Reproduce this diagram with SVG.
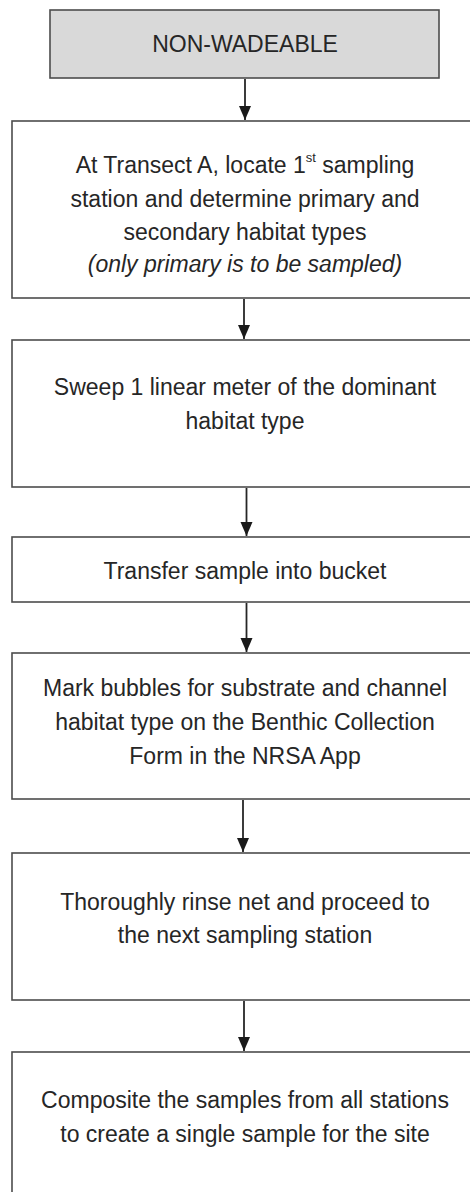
<svg xmlns="http://www.w3.org/2000/svg" width="470" height="1192" viewBox="0 0 470 1192">
<style>
.box{fill:#ffffff;stroke:#4d4d4d;stroke-width:1.6}
.head{fill:#d9d9d9;stroke:#4d4d4d;stroke-width:1.6}
.t{font-family:"Liberation Sans",Arial,sans-serif;font-size:23px;fill:#262626;text-anchor:middle}
.it{font-style:italic}
.sup{font-size:13px}
.c{stroke:#262626;stroke-width:1.8;fill:none;marker-end:url(#ah)}
</style>
<defs>
<marker id="ah" markerUnits="userSpaceOnUse" markerWidth="14" markerHeight="13" viewBox="0 0 14 13" refX="14" refY="6.5" orient="auto">
<path d="M0,0.5 L14,6.5 L0,12.5 Z" fill="#1a1a1a"/>
</marker>
</defs>
<g id="n1">
<rect class="head" x="50" y="10" width="389" height="68"/>
<text class="t" x="245" y="52">NON-WADEABLE</text>
</g>
<g id="n2">
<rect class="box" x="12" y="121" width="470" height="177"/>
<text class="t" x="245" y="173">At Transect A, locate 1<tspan class="sup" dy="-11">st</tspan><tspan dy="11"> sampling</tspan></text>
<text class="t" x="245" y="207">station and determine primary and</text>
<text class="t" x="245" y="240">secondary habitat types</text>
<text class="t it" x="245" y="272">(only primary is to be sampled)</text>
</g>
<g id="n3">
<rect class="box" x="12" y="340" width="470" height="147"/>
<text class="t" x="245" y="395">Sweep 1 linear meter of the dominant</text>
<text class="t" x="245" y="429">habitat type</text>
</g>
<g id="n4">
<rect class="box" x="12" y="537" width="470" height="65"/>
<text class="t" x="245" y="579">Transfer sample into bucket</text>
</g>
<g id="n5">
<rect class="box" x="12" y="653" width="470" height="146"/>
<text class="t" x="245" y="696">Mark bubbles for substrate and channel</text>
<text class="t" x="245" y="730">habitat type on the Benthic Collection</text>
<text class="t" x="245" y="764">Form in the NRSA App</text>
</g>
<g id="n6">
<rect class="box" x="12" y="853" width="470" height="147"/>
<text class="t" x="245" y="910">Thoroughly rinse net and proceed to</text>
<text class="t" x="245" y="943">the next sampling station</text>
</g>
<g id="n7">
<rect class="box" x="12" y="1052" width="470" height="160"/>
<text class="t" x="245" y="1108">Composite the samples from all stations</text>
<text class="t" x="245" y="1142">to create a single sample for the site</text>
</g>
<g id="connectors">
<line class="c" x1="245" y1="79" x2="245" y2="120"/>
<line class="c" x1="244" y1="299" x2="244" y2="339"/>
<line class="c" x1="246.5" y1="488" x2="246.5" y2="536"/>
<line class="c" x1="246.5" y1="603" x2="246.5" y2="652"/>
<line class="c" x1="243" y1="800" x2="243" y2="852"/>
<line class="c" x1="244" y1="1001" x2="244" y2="1051"/>
</g>
</svg>
